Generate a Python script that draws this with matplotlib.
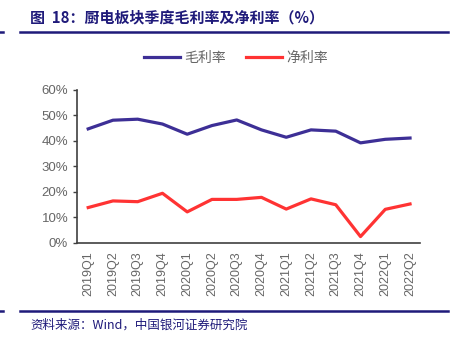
import matplotlib
matplotlib.use("Agg")
import matplotlib.pyplot as plt
from matplotlib.lines import Line2D

plt.rcParams['font.family'] = ['Liberation Sans', 'Noto Sans CJK SC', 'DejaVu Sans']

quarters = ['2019Q1', '2019Q2', '2019Q3', '2019Q4', '2020Q1', '2020Q2', '2020Q3',
            '2020Q4', '2021Q1', '2021Q2', '2021Q3', '2021Q4', '2022Q1', '2022Q2']
gross_margin = [44.7, 48.1, 48.5, 46.6, 42.6, 46.0, 48.2, 44.3, 41.4, 44.3, 43.8, 39.2, 40.6, 41.1]
net_margin = [13.8, 16.4, 16.1, 19.4, 12.1, 17.0, 17.0, 17.8, 13.2, 17.2, 14.9, 2.4, 13.1, 15.2]
yticks = [0, 10, 20, 30, 40, 50, 60]

blue = '#3D2F96'
red = '#FF3333'
navy = '#1F1A7A'
grey = '#666666'

fig = plt.figure(figsize=(4.53, 3.38), dpi=100)
ax = fig.add_axes([0.169, 0.282, 0.758, 0.452])

x = list(range(len(quarters)))
ax.plot(x, [v / 100 for v in gross_margin], color=blue, lw=2.3, label='毛利率')
ax.plot(x, [v / 100 for v in net_margin], color=red, lw=2.3, label='净利率')

ax.set_ylim(0, 0.6)
ax.set_xlim(-0.47, 13.4)
ax.set_yticks([t / 100 for t in yticks])
ax.set_yticklabels(['%d%%' % t for t in yticks], color=grey, fontsize=9.5)
ax.set_xticks(x)
ax.set_xticklabels(quarters, rotation=90, color=grey, fontsize=9)
ax.tick_params(axis='x', length=0, pad=6)
ax.tick_params(axis='y', length=3, width=1, color='#404040', pad=3)
for s in ['top', 'right']:
    ax.spines[s].set_visible(False)
for s in ['left', 'bottom']:
    ax.spines[s].set_color('#404040')
    ax.spines[s].set_linewidth(1.2)

ax.legend(loc='center', bbox_to_anchor=(236 / 453, 1 - 58 / 338), bbox_transform=fig.transFigure,
          ncol=2, frameon=False, fontsize=10, handlelength=2.6, columnspacing=1.4,
          handletextpad=0.3, labelcolor=grey)

# title and rules
fig.text(30 / 453, 1 - 17 / 338, '图  18：厨电板块季度毛利率及净利率（%）', fontsize=10.8,
         fontweight='bold', color=navy, va='center', family=['Noto Sans CJK SC', 'DejaVu Sans'])
fig.add_artist(Line2D([20 / 453, 448 / 453], [1 - 32 / 338, 1 - 32 / 338], color=navy, lw=1.8))
fig.add_artist(Line2D([0, 3 / 453], [1 - 32 / 338, 1 - 32 / 338], color=navy, lw=1.8))
fig.add_artist(Line2D([20 / 453, 448 / 453], [1 - 311 / 338, 1 - 311 / 338], color=navy, lw=1.8))
fig.add_artist(Line2D([0, 3 / 453], [1 - 311 / 338, 1 - 311 / 338], color=navy, lw=1.8))
fig.text(30 / 453, 1 - 325 / 338, '资料来源：Wind，中国银河证券研究院', fontsize=9, style='italic',
         color=navy, va='center', family=['Noto Sans CJK SC', 'DejaVu Sans'])

fig.savefig('out.png', dpi=100)
